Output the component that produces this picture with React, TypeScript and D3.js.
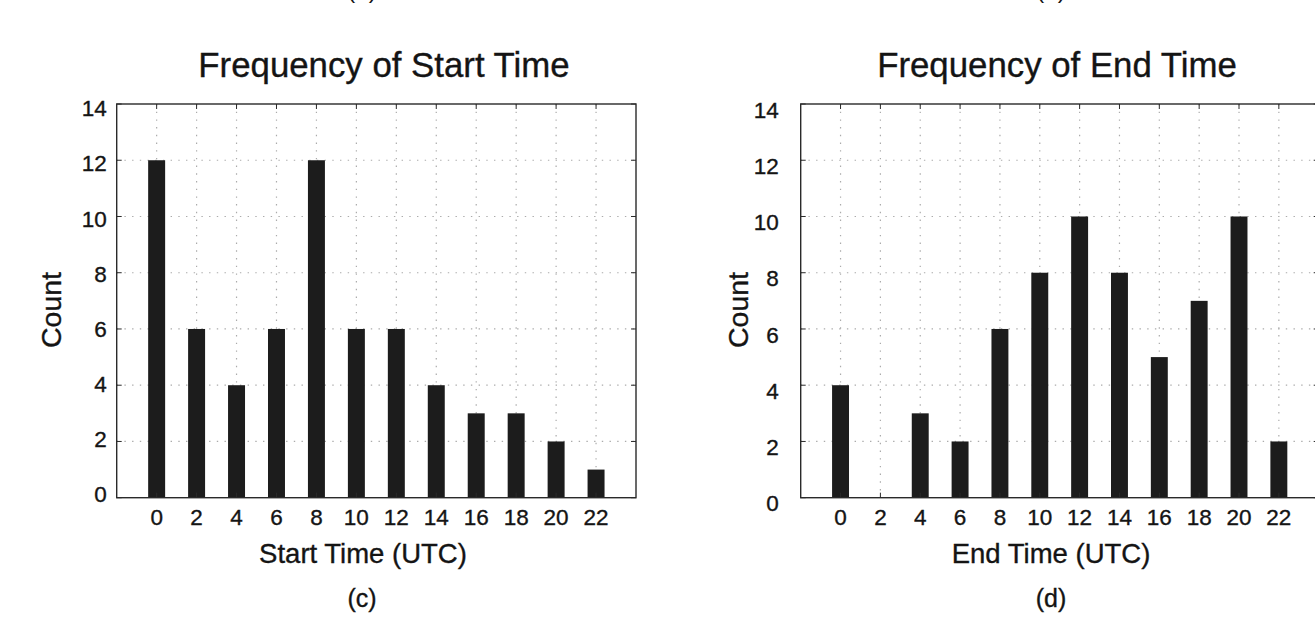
import React from 'react';
import * as d3 from 'd3';

// hours of day (bin centres) shared by both histograms
const hours = [0, 2, 4, 6, 8, 10, 12, 14, 16, 18, 20, 22];
const startCounts = [12, 6, 4, 6, 12, 6, 6, 4, 3, 3, 2, 1];
const endCounts = [4, 0, 3, 2, 6, 8, 10, 8, 5, 7, 10, 2];
const yTicks = [0, 2, 4, 6, 8, 10, 12, 14];

const FONT = '"Liberation Sans", Arial, Helvetica, sans-serif';
const W = 1315;
const H = 618;

interface PanelProps {
  left: number;
  right: number;
  title: string;
  titleX: number;
  xLabel: string;
  xLabelX: number;
  countX: number;
  countY: number;
  tickGap: number;
  labelRange: [number, number];
  caption: string;
  captionX: number;
  counts: number[];
}

const Panel: React.FC<PanelProps> = ({
  left, right, title, titleX, xLabel, xLabelX, countX, countY, tickGap, labelRange,
  caption, captionX, counts
}) => {
  const top = 104;
  const bottom = 497.7;
  const x = d3.scaleLinear().domain([-2, 24]).range([left, right]);
  const y = d3.scaleLinear().domain([0, 14]).range([bottom, top]);
  // the scanned figure places the y labels slightly off the tick positions
  const yLab = d3.scaleLinear().domain([0, 14]).range(labelRange);
  const barW = x(0.85) - x(0);
  const tickLen = 5;
  const grid = '#ababab';
  const axis = '#2a2a2a';
  const ink = { fill: '#141414', stroke: '#141414', strokeWidth: 0.35 };

  return (
    <g>
      {/* dotted grid */}
      {hours.map(h => (
        <line key={'gx' + h} x1={x(h)} x2={x(h)} y1={top} y2={bottom}
          stroke={grid} strokeWidth={1.2} strokeDasharray="1.4,6.3" />
      ))}
      {yTicks.slice(1, -1).map(v => (
        <line key={'gy' + v} x1={left} x2={right} y1={y(v)} y2={y(v)}
          stroke={grid} strokeWidth={1.2} strokeDasharray="1.4,6.3" />
      ))}

      {/* bars */}
      {hours.map((h, i) => counts[i] > 0 && (
        <rect key={'b' + h} x={x(h) - barW / 2} y={y(counts[i])}
          width={barW} height={y(0) - y(counts[i])} fill="#1c1c1c" />
      ))}

      {/* inward ticks on all four sides */}
      {hours.map(h => (
        <g key={'tx' + h} stroke={axis} strokeWidth={1}>
          <line x1={x(h)} x2={x(h)} y1={bottom} y2={bottom - tickLen} />
          <line x1={x(h)} x2={x(h)} y1={top} y2={top + tickLen} />
        </g>
      ))}
      {yTicks.map(v => (
        <g key={'ty' + v} stroke={axis} strokeWidth={1}>
          <line x1={left} x2={left + tickLen} y1={y(v)} y2={y(v)} />
          <line x1={right} x2={right - tickLen} y1={y(v)} y2={y(v)} />
        </g>
      ))}

      {/* frame */}
      <rect x={left} y={top} width={right - left} height={bottom - top}
        fill="none" stroke={axis} strokeWidth={1.4} />

      {/* tick labels */}
      {hours.map(h => (
        <text key={'lx' + h} x={x(h)} y={bottom + 27} textAnchor="middle"
          fontSize={22.5} {...ink}>{h}</text>
      ))}
      {yTicks.map(v => (
        <text key={'ly' + v} x={left - tickGap} y={yLab(v) + 8} textAnchor="end"
          fontSize={22.5} {...ink}>{v}</text>
      ))}

      {/* titles */}
      <text x={titleX} y={77} textAnchor="middle" fontSize={34.8} {...ink}>{title}</text>
      <text x={xLabelX} y={563} textAnchor="middle" fontSize={27.5} {...ink}>{xLabel}</text>
      <text transform={`translate(${countX},${countY}) rotate(-90)`} textAnchor="middle"
        fontSize={28.5} {...ink}>Count</text>
      <text x={captionX} y={607} textAnchor="middle" fontSize={25} {...ink}>{caption}</text>
    </g>
  );
};

const App: React.FC = () => {
  return (
    <svg width={W} height={H} fontFamily={FONT}
      style={{ position: 'absolute', left: 0, top: 0, background: '#fff', display: 'block' }}>
      {/* captions of the panels above, cut off by the page edge as in the source */}
      <text x={362} y={-2} textAnchor="middle" fontSize={24} fill="#141414">(a)</text>
      <text x={1051} y={-2} textAnchor="middle" fontSize={24} fill="#141414">(b)</text>

      <Panel left={116.7} right={636} title="Frequency of Start Time" titleX={384}
        xLabel="Start Time (UTC)" xLabelX={363} countX={61} countY={310} tickGap={10}
        labelRange={[494, 108.3]} caption="(c)" captionX={362} counts={startCounts} />
      <Panel left={800.7} right={1318.7} title="Frequency of End Time" titleX={1057}
        xLabel="End Time (UTC)" xLabelX={1051} countX={748} countY={310} tickGap={22}
        labelRange={[503, 110]} caption="(d)" captionX={1051} counts={endCounts} />
    </svg>
  );
};

export default App;
